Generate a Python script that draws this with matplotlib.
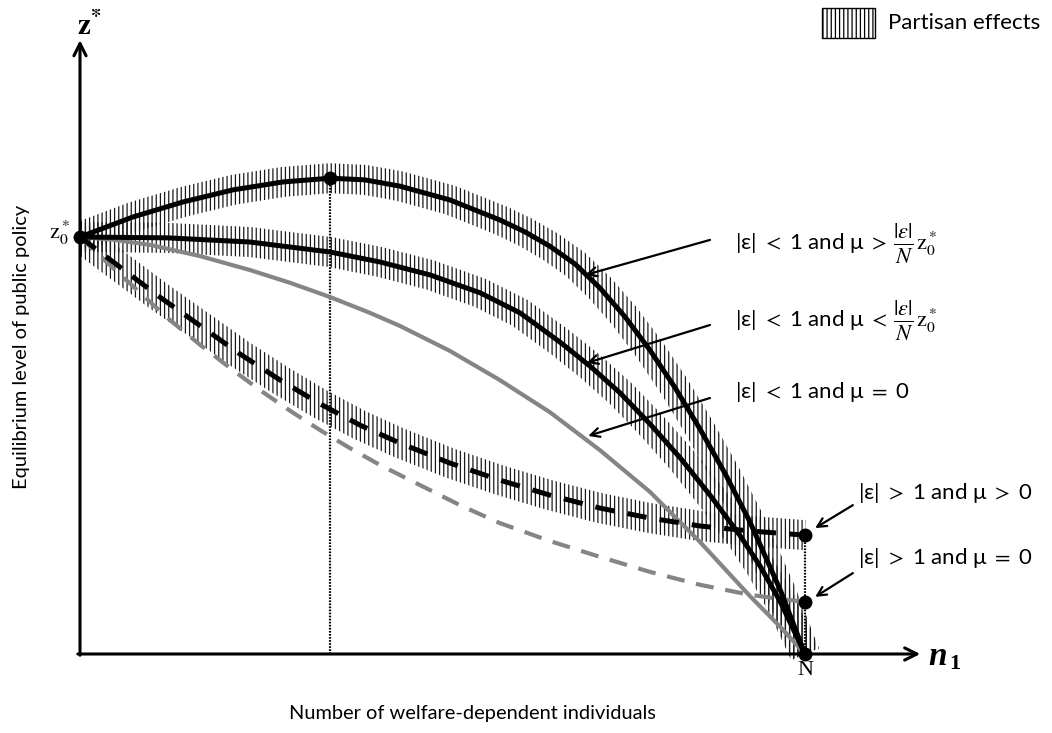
import numpy as np
import matplotlib
matplotlib.use("Agg")
import matplotlib.pyplot as plt
from matplotlib.patches import Polygon, Rectangle

# values (N = 100, z0* = 100)
N = 100
z0 = 100

# |eps| < 1 and mu > |eps|/N z0*  (black, with partisan band)
a_x = [0, 7.3, 14.2, 21.1, 28.0, 34.5, 39.3, 44.1, 51.0, 57.9, 61.4, 64.8, 68.3,
       71.7, 75.2, 78.6, 82.1, 85.5, 89.0, 92.4, 96.6, 100]
a_y = [100, 104.8, 108.4, 111.3, 113.2, 114.1, 113.7, 112.2, 108.9, 104.1, 101.2,
       97.8, 93.5, 87.8, 80.8, 72.9, 63.8, 54.0, 43.2, 31.7, 15.3, 0]

# |eps| < 1 and mu < |eps|/N z0*  (black, with partisan band)
b_x = [0, 12.0, 23.4, 34.5, 41.4, 48.3, 55.2, 60.7, 66.2, 70.3, 74.5, 78.6, 82.8,
       86.9, 91.0, 93.8, 96.6, 100]
b_y = [100, 99.8, 98.8, 96.4, 94.0, 90.9, 86.6, 81.8, 74.8, 69.1, 62.6, 55.2, 47.0,
       38.1, 28.5, 21.1, 12.5, 0]

# |eps| < 1 and mu = 0  (grey)
c_x = [0, 4.8, 9.7, 16.6, 23.4, 29.0, 34.5, 40.0, 44.1, 51.0, 57.9, 64.8, 71.7,
       78.6, 85.5, 92.4, 96.6, 100]
c_y = [100, 99.3, 98.1, 95.4, 92.1, 89.0, 85.6, 81.8, 78.7, 72.7, 65.7, 58.0, 48.9,
       38.9, 26.9, 13.9, 6.5, 0]

# |eps| > 1 and mu > 0  (black dashed, with partisan band)
d_x = [0, 5.5, 11.0, 16.6, 22.1, 27.6, 33.1, 38.6, 44.1, 51.0, 57.9, 64.8, 71.7,
       78.6, 85.5, 92.4, 100]
d_y = [100, 92.8, 85.6, 78.7, 71.9, 65.7, 60.0, 54.9, 50.6, 45.8, 41.7, 38.1, 35.0,
       32.6, 30.7, 29.5, 28.5]

# |eps| > 1 and mu = 0  (grey dashed)
e_x = [0, 4.1, 8.3, 12.4, 16.6, 20.7, 24.8, 29.0, 33.1, 37.2, 41.4, 46.9, 52.4,
       57.9, 64.8, 71.7, 78.6, 85.5, 92.4, 96.6, 100]
e_y = [100, 93.3, 86.6, 80.1, 74.1, 68.6, 63.3, 58.3, 53.7, 49.4, 45.3, 40.5, 35.7,
       31.4, 27.1, 23.3, 19.7, 16.6, 14.2, 13.2, 12.5]

labels = [r"|ε| $<$ 1 and μ $>$",
          r"|ε| $<$ 1 and μ $<$",
          r"|ε| $<$ 1 and μ $=$ 0",
          r"|ε| $>$ 1 and μ $>$ 0",
          r"|ε| $>$ 1 and μ $=$ 0"]
label_has_frac = [True, True, False, False, False]

plt.rcParams["mathtext.fontset"] = "stix"
plt.rcParams["lines.scale_dashes"] = False
plt.rcParams["hatch.linewidth"] = 0.9
plt.rcParams["hatch.color"] = "#1a1a1a"
sans = ["Lato", "DejaVu Sans"]
serif = ["Liberation Serif", "DejaVu Serif"]

fig = plt.figure(figsize=(10.52, 7.33), dpi=100)
ax = fig.add_axes([0, 0, 1, 1])
ax.set_xlim(-80 / 7.25, 972 / 7.25)
ax.set_ylim(-79 / 4.17, 654 / 4.17)
ax.axis("off")

clip = Rectangle((0, -50), 200, 250, transform=ax.transData)


def band(x, y, half=15):
    # hatched strip of constant width (pixels) around a curve
    pts = ax.transData.transform(np.column_stack([x, y]))
    d = np.gradient(pts, axis=0)
    nrm = np.column_stack([-d[:, 1], d[:, 0]])
    nrm /= np.hypot(nrm[:, 0], nrm[:, 1])[:, None]
    poly = np.vstack([pts + nrm * half, (pts - nrm * half)[::-1]])
    poly = ax.transData.inverted().transform(poly)
    p = Polygon(poly, closed=True, facecolor="none", edgecolor="#1a1a1a",
                linewidth=0, hatch="||||", zorder=1)
    ax.add_patch(p)
    p.set_clip_path(clip)


band(a_x, a_y)
band(b_x, b_y)
band(d_x, d_y)

grey = "#858585"
ax.plot(e_x, e_y, color=grey, lw=3.0, dashes=(13, 8.5), zorder=2)
ax.plot(c_x, c_y, color=grey, lw=3.0, zorder=3)
ax.plot(d_x, d_y, color="black", lw=3.6, dashes=(14, 9.5), zorder=4)
ax.plot(b_x, b_y, color="black", lw=3.6, zorder=5)
ax.plot(a_x, a_y, color="black", lw=3.6, zorder=5)

# dotted guides
i_peak = int(np.argmax(a_y))
ax.plot([a_x[i_peak]] * 2, [0, a_y[i_peak]], color="black", lw=1.6,
        dashes=(1.2, 1.0), zorder=2)
ax.plot([N, N], [0, d_y[-1]], color="black", lw=1.6, dashes=(1.2, 1.0), zorder=2)

# points
ax.plot([0, a_x[i_peak], N, N, N], [z0, a_y[i_peak], d_y[-1], e_y[-1], 0], "o",
        color="black", ms=9, zorder=8)

# axes with arrows
ax.annotate("", xy=(0, 147.2), xytext=(0, -0.3),
            arrowprops=dict(arrowstyle="->", lw=2.2, color="black",
                            mutation_scale=22, shrinkA=0, shrinkB=0), zorder=6)
ax.annotate("", xy=(115.9, 0), xytext=(-0.3, 0),
            arrowprops=dict(arrowstyle="->", lw=2.2, color="black",
                            mutation_scale=22, shrinkA=0, shrinkB=0), zorder=6)

ax.text(-1.4, 101, r"$\mathrm{z}_0^*$", fontsize=16, ha="right", va="center")
ax.text(N, -3.9, "N", fontsize=16, family=serif, ha="center", va="center")
ax.text(-0.4, 150.5, r"$\mathbf{z}^{\mathbf{*}}$", fontsize=21, ha="left",
        va="center")
ax.text(117.0, -0.5, "n", fontsize=24, family=serif, weight="bold", style="italic",
        ha="left", va="center")
ax.text(119.9, -2.3, "1", fontsize=16, family=serif, weight="bold", ha="left",
        va="center")

ax.text(-8.0, 73.6, "Equilibrium level of public policy", fontsize=14.4,
        family=sans, rotation=90, ha="center", va="center")
ax.text(54.1, -14.2, "Number of welfare-dependent individuals", fontsize=14.4,
        family=sans, ha="center", va="center")

# annotations: (arrow tail, arrow tip, text anchor)
arrows = [((86.9, 99.3), (69.7, 90.9), (90.3, 98.6)),
          ((86.9, 78.9), (69.9, 69.8), (90.3, 80.1)),
          ((86.9, 61.4), (70.1, 52.3), (90.3, 62.8)),
          ((106.6, 35.7), (101.4, 30.2), (107.3, 38.6)),
          ((106.6, 19.4), (101.4, 13.7), (107.3, 23.0))]
for lab, frac, (tail, tip, txt) in zip(labels, label_has_frac, arrows):
    ax.annotate("", xy=tip, xytext=tail,
                arrowprops=dict(arrowstyle="->", lw=1.6, color="black",
                                mutation_scale=16, shrinkA=0, shrinkB=0))
    t = ax.text(txt[0], txt[1], lab, fontsize=16, family=sans, ha="left",
                va="center")
    if frac:
        f = ax.annotate(r"$\frac{|\varepsilon|}{N}$", xy=(1, 0.5), xycoords=t,
                        xytext=(4, -1), textcoords="offset points", fontsize=23,
                        ha="left", va="center")
        ax.annotate(r"$\mathrm{z}_0^*$", xy=(1, 0.5), xycoords=f,
                    xytext=(1.5, 0), textcoords="offset points", fontsize=16,
                    ha="left", va="center")

# legend
leg = Rectangle((102.3, 147.7), 7.3, 7.2, facecolor="white", edgecolor="black",
                lw=1.0, hatch="||||")
ax.add_patch(leg)
ax.text(111.4, 151.3, "Partisan effects", fontsize=16, family=sans, ha="left",
        va="center")

fig.savefig("out.png", dpi=100)
